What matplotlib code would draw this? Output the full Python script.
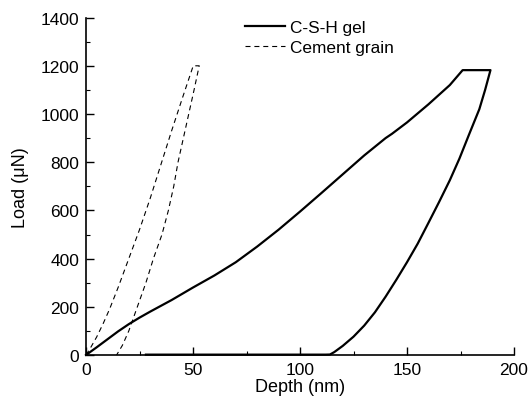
import matplotlib
matplotlib.use("Agg")
import matplotlib.pyplot as plt
from matplotlib.ticker import MultipleLocator

plt.rcParams['font.family'] = ['Liberation Sans', 'DejaVu Sans']
plt.rcParams['font.size'] = 12

# C-S-H gel: loading, hold, unloading, baseline tail
csh_depth = [0, 5, 10, 15, 20, 25, 30, 40, 50, 60, 70, 80, 90, 100, 110, 120, 130, 140, 143,
             150, 160, 170, 176,
             189,
             186.5, 183.8, 179, 174.5, 170, 165, 160, 155, 150, 145, 140, 135, 130, 125, 120, 116, 114,
             112, 28]
csh_load = [0, 32, 65, 98, 128, 155, 180, 228, 280, 330, 385, 450, 520, 595, 672, 750, 828, 900, 918,
            965, 1040, 1120, 1182,
            1182,
            1100, 1020, 915, 815, 725, 635, 548, 462, 385, 312, 242, 177, 122, 76, 38, 12, 2,
            1.5, 1.5]

# Cement grain: loading, hold, unloading
cem_depth = [0, 2, 5, 8, 11, 15, 20, 25, 30, 35, 40, 45, 50.1,
             52.9,
             50.5, 48, 45.5, 43, 41, 38.5, 35.5, 31.5, 28, 24, 20, 17, 14.3]
cem_load = [0, 28, 75, 130, 190, 280, 400, 520, 650, 790, 930, 1065, 1200,
            1200,
            1100, 1000, 900, 800, 700, 600, 500, 400, 300, 200, 100, 40, 0]

x_ticks = [0, 50, 100, 150, 200]
y_ticks = [0, 200, 400, 600, 800, 1000, 1200, 1400]

fig = plt.figure(figsize=(5.31, 4.10), dpi=100)
ax = fig.add_axes([86/531, 1-356/410, (514-86)/531, (356-18.6)/410])

ax.plot(csh_depth, csh_load, color='black', lw=1.6, label='C-S-H gel', clip_on=False,
        solid_joinstyle='round')
ax.plot(cem_depth, cem_load, color='black', lw=0.8, ls=(0, (4.5, 3.5)), label='Cement grain',
        clip_on=False)

ax.set_xlim(0, 200)
ax.set_ylim(0, 1400)
ax.set_xticks(x_ticks)
ax.set_yticks(y_ticks)
ax.xaxis.set_minor_locator(MultipleLocator(25))
ax.yaxis.set_minor_locator(MultipleLocator(100))
ax.tick_params(which='major', direction='in', length=6, width=1, pad=5, labelsize=12.5)
ax.tick_params(which='minor', direction='in', length=3, width=0.8)
ax.spines['top'].set_visible(False)
ax.spines['right'].set_visible(False)
ax.spines['left'].set_linewidth(1.2)
ax.spines['bottom'].set_linewidth(1.2)

ax.set_xlabel('Depth (nm)', fontsize=13, labelpad=1)
ax.set_ylabel('Load (μN)', fontsize=13, labelpad=8)

leg = ax.legend(loc='upper left', bbox_to_anchor=(245/531, 1-21/410),
                bbox_transform=fig.transFigure, frameon=False, handlelength=2.3,
                handletextpad=0.3, labelspacing=0.3, borderpad=0, borderaxespad=0,
                fontsize=12.4)

fig.savefig('out.png', dpi=100)
